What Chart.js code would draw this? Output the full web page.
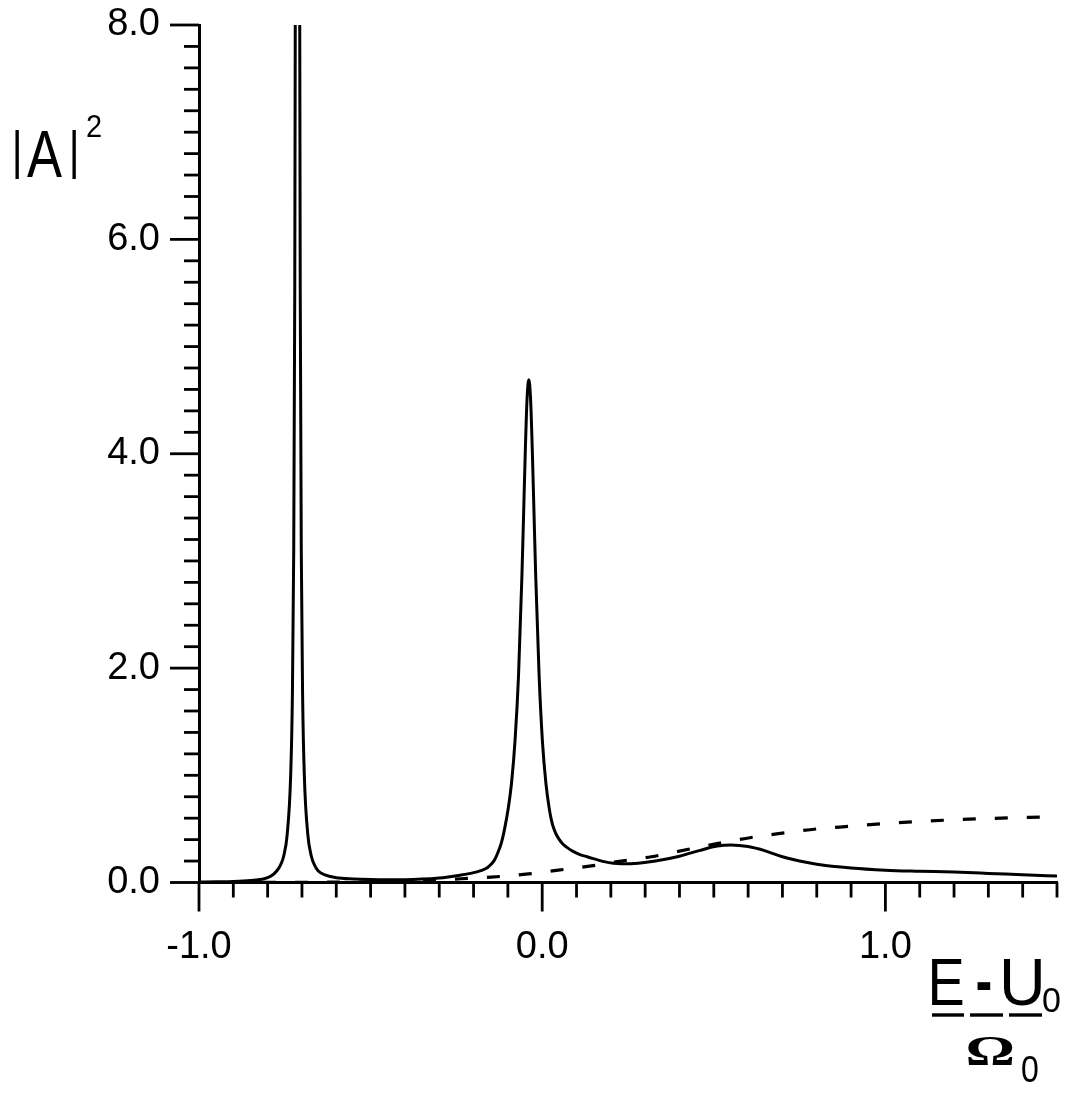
<!DOCTYPE html>
<html><head><meta charset="utf-8">
<script src="https://cdn.jsdelivr.net/npm/chart.js@4.4.1/dist/chart.umd.min.js"></script>
<style>html,body{margin:0;padding:0;background:#fff;}#wrap{position:relative;width:1071px;height:1093px;}</style>
</head><body><div id="wrap"><canvas id="c" width="1071" height="1093"></canvas></div>
<script>
// ---- data ----
const xSolid = [-1.00,-0.95,-0.90,-0.85,-0.81,-0.79,-0.773,-0.763,-0.753,-0.743,-0.733,-0.728,-0.724,-0.721,-0.719,-0.717,-0.715,-0.713,-0.711,-0.709,-0.707,-0.705,-0.702,-0.698,-0.693,-0.683,-0.673,-0.663,-0.653,-0.633,-0.60,-0.55,-0.50,-0.45,-0.40,-0.35,-0.30,-0.279,-0.239,-0.209,-0.179,-0.159,-0.149,-0.139,-0.129,-0.119,-0.109,-0.099,-0.089,-0.079,-0.069,-0.059,-0.054,-0.049,-0.044,-0.039,-0.034,-0.029,-0.024,-0.019,-0.009,0.001,0.011,0.021,0.027,0.033,0.04,0.05,0.06,0.073,0.09,0.11,0.131,0.18,0.23,0.28,0.33,0.40,0.46,0.51,0.55,0.60,0.65,0.70,0.75,0.80,0.90,1.00,1.10,1.20,1.30,1.40,1.50];
const ySolid = [0.004,0.006,0.009,0.018,0.035,0.06,0.11,0.16,0.25,0.45,0.99,1.72,3.1,5.5,8.9,16,30,44,30,16,8.9,5.5,3.1,1.72,0.99,0.45,0.25,0.16,0.11,0.07,0.045,0.033,0.027,0.025,0.026,0.032,0.043,0.05,0.068,0.085,0.11,0.14,0.17,0.21,0.28,0.37,0.51,0.69,0.94,1.33,1.93,2.87,3.46,4.05,4.52,4.69,4.52,4.05,3.46,2.87,1.93,1.30,0.92,0.68,0.58,0.51,0.455,0.40,0.36,0.325,0.29,0.26,0.24,0.195,0.175,0.18,0.20,0.245,0.30,0.34,0.35,0.335,0.295,0.24,0.20,0.17,0.135,0.115,0.105,0.097,0.085,0.072,0.06];
const xDashed = [-1.00,-0.70,-0.50,-0.40,-0.30,-0.236,-0.149,-0.04,0.047,0.143,0.23,0.318,0.426,0.513,0.609,0.70,0.80,0.90,1.00,1.10,1.20,1.30,1.40,1.50];
const yDashed = [0.0,0.002,0.006,0.012,0.022,0.035,0.05,0.08,0.115,0.155,0.20,0.24,0.31,0.365,0.42,0.46,0.50,0.525,0.55,0.57,0.585,0.597,0.606,0.613];
const xTickLabels = [-1, 0, 1];
const yTickLabels = [0, 2, 4, 6, 8];
const xMinorStep = 0.1;
const yMinorStep = 0.2;

// ---- helpers ----
function drawFit(ctx, text, font, l, r, t, b) {
  ctx.save();
  ctx.font = font; ctx.textBaseline = 'alphabetic'; ctx.textAlign = 'left';
  const m = ctx.measureText(text);
  const inkL = -m.actualBoundingBoxLeft, inkR = m.actualBoundingBoxRight;
  const inkT = -m.actualBoundingBoxAscent, inkB = m.actualBoundingBoxDescent;
  const sx = (r - l) / (inkR - inkL), sy = (b - t) / (inkB - inkT);
  ctx.translate(l - inkL * sx, t - inkT * sy);
  ctx.scale(sx, sy);
  ctx.fillText(text, 0, 0);
  ctx.restore();
}

const ticksPlugin = {
  id: 'ticksPlugin',
  afterDraw(chart) {
    const ctx = chart.ctx, xs = chart.scales.x, ys = chart.scales.y;
    const ax = chart.chartArea.left, ay = chart.chartArea.bottom;
    ctx.save();
    ctx.strokeStyle = '#000'; ctx.lineWidth = 2.8; ctx.lineCap = 'butt';
    const ny = Math.round((ys.max - ys.min) / yMinorStep);
    for (let i = 0; i <= ny; i++) {
      const v = ys.min + i * yMinorStep;
      const major = yTickLabels.some(t => Math.abs(t - v) < 1e-6);
      const len = major ? 29 : 15;
      const py = ys.getPixelForValue(v);
      ctx.beginPath(); ctx.moveTo(ax - len, py); ctx.lineTo(ax, py); ctx.stroke();
    }
    const nx = Math.round((xs.max - xs.min) / xMinorStep);
    for (let i = 0; i <= nx; i++) {
      const v = xs.min + i * xMinorStep;
      const major = xTickLabels.some(t => Math.abs(t - v) < 1e-6);
      const len = major ? 29 : 15;
      const px = xs.getPixelForValue(v);
      ctx.beginPath(); ctx.moveTo(px, ay); ctx.lineTo(px, ay + len); ctx.stroke();
    }
    ctx.fillStyle = '#000';
    // y axis label |A|^2
    drawFit(ctx, '|', '52px "Liberation Sans"', 15, 19, 130, 179);
    drawFit(ctx, 'A', '63px "Liberation Sans"', 27, 62, 132, 177);
    drawFit(ctx, '|', '52px "Liberation Sans"', 72, 76, 130, 179);
    drawFit(ctx, '2', '31px "Liberation Sans"', 87, 101, 115, 137);
    // x axis label (E-U0)/Ω0
    drawFit(ctx, 'E', '63px "Liberation Sans"', 932, 963, 960, 1005);
    drawFit(ctx, '-', '63px "Liberation Sans"', 977, 991, 983, 991);
    drawFit(ctx, 'U', '63px "Liberation Sans"', 1003, 1041, 960, 1006);
    drawFit(ctx, '0', '34px "Liberation Sans"', 1043, 1060, 988, 1012);
    ctx.fillRect(932, 1013.3, 32, 3.4);
    ctx.fillRect(970, 1013.3, 33, 3.4);
    ctx.fillRect(1009, 1013.3, 33, 3.4);
    drawFit(ctx, 'Ω', 'bold 48px "Liberation Serif"', 968, 1013, 1037, 1065);
    drawFit(ctx, '0', '34px "Liberation Sans"', 1022, 1038, 1057, 1082);
    ctx.restore();
  }
};

const tickFont = { family: '"Liberation Sans", Arial, sans-serif', size: 38 };

new Chart(document.getElementById('c'), {
  type: 'line',
  data: {
    datasets: [
      { data: xSolid.map((x, i) => ({ x, y: ySolid[i] })), borderColor: '#000', borderWidth: 3,
        pointRadius: 0, fill: false, cubicInterpolationMode: 'monotone' },
      { data: xDashed.map((x, i) => ({ x, y: yDashed[i] })), borderColor: '#000', borderWidth: 3.2,
        borderDash: [13, 19], pointRadius: 0, fill: false, cubicInterpolationMode: 'monotone' }
    ]
  },
  options: {
    responsive: false, animation: false, devicePixelRatio: 1,
    layout: { padding: { top: 25, right: 14, left: 0, bottom: 0 } },
    plugins: { legend: { display: false }, tooltip: { enabled: false } },
    scales: {
      x: {
        type: 'linear', min: -1, max: 1.5,
        afterBuildTicks: s => { s.ticks = xTickLabels.map(v => ({ value: v })); },
        afterFit: s => { s.height = 210.5; },
        ticks: { font: tickFont, color: '#000', padding: 0, maxRotation: 0, autoSkip: false,
                 callback: v => Number(v).toFixed(1) },
        grid: { display: false, drawTicks: true, tickLength: 42 },
        border: { display: true, color: '#000', width: 3 }
      },
      y: {
        type: 'linear', min: 0, max: 8,
        afterBuildTicks: s => { s.ticks = yTickLabels.map(v => ({ value: v })); },
        afterFit: s => { s.width = 199; },
        ticks: { font: tickFont, color: '#000', padding: 0, autoSkip: false,
                 callback: v => Number(v).toFixed(1) },
        grid: { display: false, drawTicks: true, tickLength: 39 },
        border: { display: true, color: '#000', width: 3 }
      }
    }
  },
  plugins: [ticksPlugin]
});
</script>
</body></html>
